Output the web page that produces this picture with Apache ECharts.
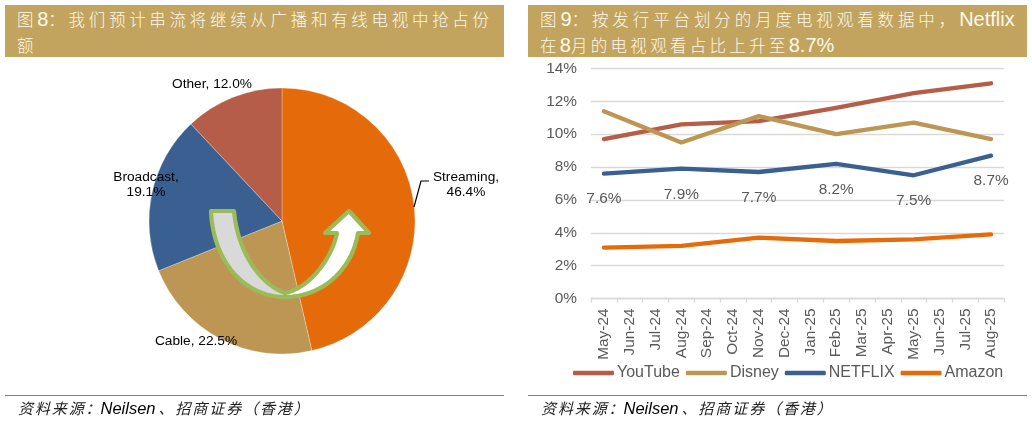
<!DOCTYPE html>
<html><head><meta charset="utf-8">
<script src="https://cdn.jsdelivr.net/npm/echarts@6/dist/echarts.min.js"></script>
<style>
html,body{margin:0;padding:0;background:#fff;width:1032px;height:421px;overflow:hidden}
#chart{position:absolute;left:0;top:0;width:1032px;height:421px}
.hd{position:absolute;top:5px;width:499px;height:52px;background:#C2A45F;color:#FCF8EE;box-sizing:border-box;
 font-family:"Noto Sans CJK SC",sans-serif;font-size:16.5px;line-height:26px;padding:1px 0 0 12px;letter-spacing:3.7px;font-weight:300;white-space:nowrap}
.hd.r{letter-spacing:3.9px}
.hd .l2{letter-spacing:3.3px}
.hd b{font-family:"Liberation Sans",Arial,sans-serif;font-weight:400;font-size:20px;letter-spacing:0}
.rule{position:absolute;top:394.5px;width:499px;height:1.5px;background:#7F7F7F}
.src{position:absolute;top:398px;font-family:"Noto Sans CJK SC",sans-serif;font-style:italic;font-size:15px;line-height:20px;letter-spacing:1.9px;color:#222;white-space:nowrap}
.src b{font-family:"Liberation Sans",Arial,sans-serif;font-weight:400;font-size:16.5px;letter-spacing:0;color:#000;margin:0 3px 0 -2px}
</style></head><body>
<div id="chart"></div>
<div class="hd" style="left:5px">图<b>8</b>：我们预计串流将继续从广播和有线电视中抢占份<br>额</div>
<div class="hd r" style="left:528px">图<b>9</b>：按发行平台划分的月度电视观看数据中，<b>Netflix</b><br><span class="l2">在<b>8</b>月的电视观看占比上升至<b>8.7%</b></span></div>
<div class="rule" style="left:5px"></div><div class="rule" style="left:528px"></div>
<div class="src" style="left:18px">资料来源：<b>Neilsen</b>、招商证券（香港）</div>
<div class="src" style="left:541px">资料来源：<b>Neilsen</b>、招商证券（香港）</div>
<script>
const shareNames = ['Streaming','Cable','Broadcast','Other'];
const shareValues = [46.4,22.5,19.1,12.0];
const shareColors = ['#E56B0A','#BC9652','#3A6091','#B55D48'];
const months = ['May-24','Jun-24','Jul-24','Aug-24','Sep-24','Oct-24','Nov-24','Dec-24','Jan-25','Feb-25','Mar-25','Apr-25','May-25','Jun-25','Jul-25','Aug-25'];
const youtube = [9.7,null,null,10.6,null,null,10.8,null,null,11.6,null,null,12.5,null,null,13.1];
const disney  = [11.4,null,null,9.5,null,null,11.1,null,null,10.0,null,null,10.7,null,null,9.7];
const netflix = [7.6,null,null,7.9,null,null,7.7,null,null,8.2,null,null,7.5,null,null,8.7];
const amazon  = [3.1,null,null,3.2,null,null,3.7,null,null,3.5,null,null,3.6,null,null,3.9];
const labelSpots = [[466,185],[196,341],[146,185],[212,84]];

function bez(p0,p1,p2,p3,n){const o=[];for(let i=0;i<=n;i++){const t=i/n,u=1-t;
 o.push([u*u*u*p0[0]+3*u*u*t*p1[0]+3*u*t*t*p2[0]+t*t*t*p3[0],u*u*u*p0[1]+3*u*u*t*p1[1]+3*u*t*t*p2[1]+t*t*t*p3[1]]);}return o;}
const leftPart=[...bez([211,211],[213,262],[245,297],[285,297],30),...bez([285,293],[262,285],[238,255],[234,211],30)];
const rightPart=[...bez([285,297],[322,297],[352,270],[358,233],30),[369,233],[349,211],[325,233],[337,233],...bez([337,233],[332,258],[310,288],[285,293],30)];
const green='#9BBB59';
const lineSeries=(name,data,color,extra)=>Object.assign({name,type:'line',data,connectNulls:true,symbol:'none',showSymbol:true,showAllSymbol:true,
  lineStyle:{color,width:4.3,cap:'round',join:'round'},itemStyle:{color},emphasis:{disabled:true},z:3},extra||{});

const chart=echarts.init(document.getElementById('chart'),null,{renderer:'canvas'});
chart.setOption({
 animation:false,
 grid:{left:591,right:28,top:68.5,height:230},
 legend:{left:568,top:360,itemWidth:41,itemHeight:4.5,itemGap:6,
  textStyle:{color:'#595959',fontSize:16,fontFamily:'"Liberation Sans",Arial',padding:[0,0,0,-2]},
  data:['YouTube','Disney','NETFLIX','Amazon'].map(n=>({name:n,icon:'roundRect'}))},
 xAxis:{type:'category',data:months,boundaryGap:true,
  axisLine:{lineStyle:{color:'#D9D9D9',width:1.3}},axisTick:{show:true,length:4,alignWithLabel:false,lineStyle:{color:'#D9D9D9',width:1.3}},
  axisLabel:{rotate:90,interval:0,color:'#595959',fontSize:15.4,fontFamily:'"Liberation Sans",Arial',margin:10}},
 yAxis:{type:'value',min:0,max:14,interval:2,axisLine:{show:false},axisTick:{show:false},
  splitLine:{lineStyle:{color:'#D9D9D9',width:1.3}},
  axisLabel:{color:'#595959',fontSize:15.4,fontFamily:'"Liberation Sans",Arial',margin:14,formatter:'{value}%'}},
 series:[
  {type:'pie',center:[282,221],radius:[0,133],startAngle:90,clockwise:true,avoidLabelOverlap:false,silent:true,z:1,
   data:shareNames.map((n,i)=>({name:n,value:shareValues[i],itemStyle:{color:shareColors[i],borderColor:'rgba(255,255,255,.45)',borderWidth:.6}})),
   label:{show:true,color:'#000',fontSize:13.7,lineHeight:15,align:'center',fontFamily:'"Liberation Sans",Arial',
     formatter:p=>p.name+','+((p.name==='Streaming'||p.name==='Broadcast')?'\n':' ')+p.value.toFixed(1)+'%'},
   labelLine:{show:false},
   labelLayout:p=>({x:labelSpots[p.dataIndex][0],y:labelSpots[p.dataIndex][1],align:'center',verticalAlign:'middle'})},
  lineSeries('YouTube',youtube,'#B55D48'),
  lineSeries('Disney',disney,'#BC9652'),
  lineSeries('NETFLIX',netflix,'#3A6091',{symbol:'circle',symbolSize:0.1,label:{show:true,position:'bottom',distance:18,color:'#595959',fontSize:15.4,fontFamily:'"Liberation Sans",Arial',formatter:p=>p.value.toFixed(1)+'%'}}),
  lineSeries('Amazon',amazon,'#E56B0A')
 ],
 graphic:[
  {type:'polyline',z:50,shape:{points:[[414,207],[421,181],[429,181]]},style:{stroke:'#000',lineWidth:1.2,fill:null}},
  {type:'polygon',z:51,shape:{points:leftPart},style:{fill:'#D9D9D9',stroke:green,lineWidth:4.2,lineJoin:'round'}},
  {type:'polygon',z:52,shape:{points:rightPart},style:{fill:'#FFFFFF',stroke:green,lineWidth:4.2,lineJoin:'round'}}
 ]
});
</script></body></html>
